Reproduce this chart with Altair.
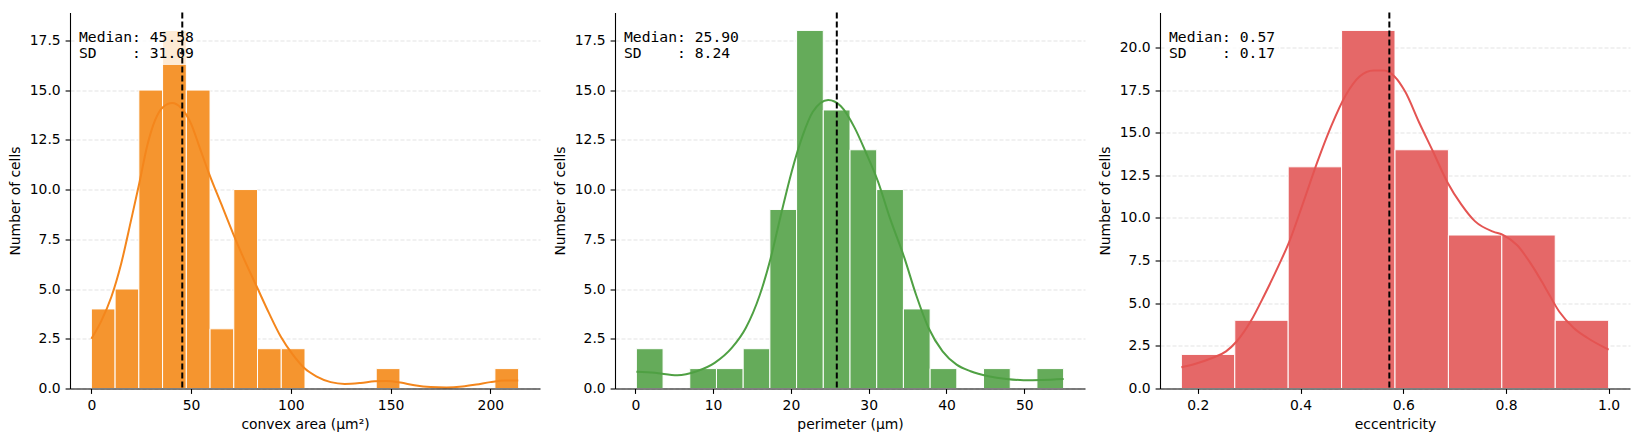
import altair as alt
import numpy as np
import pandas as pd

# ---- histogram data (76 cells) ----
area_range = (0.0, 214.2)
area_counts = [4, 5, 15, 18, 15, 3, 10, 2, 2, 0, 0, 0, 1, 0, 0, 0, 0, 1]

perim_range = (0.135, 55.06)
perim_counts = [2, 0, 1, 1, 2, 9, 18, 14, 12, 10, 4, 1, 0, 1, 0, 1]

ecc_range = (0.168, 1.0)
ecc_counts = [2, 4, 13, 21, 14, 9, 9, 4]

# ---- kernel density curves, scaled to counts ----
area_kde_x = [0, 5, 10, 15, 20, 24, 28, 32, 36, 40.5, 45, 50, 54, 59, 65, 71, 77, 83,
              89, 95, 101, 107, 113, 120, 127, 135, 142, 148, 155, 162, 170, 178, 186,
              193, 200, 207, 214]
area_kde_y = [2.5, 3.4, 4.6, 6.3, 8.5, 10.3, 12.2, 13.5, 14.15, 14.35, 14.1, 13.3, 12.2,
              10.8, 9.3, 7.8, 6.4, 5.1, 3.8, 2.6, 1.7, 1.0, 0.6, 0.32, 0.23, 0.28, 0.36,
              0.38, 0.3, 0.16, 0.07, 0.05, 0.1, 0.2, 0.32, 0.4, 0.4]

perim_kde_x = [0.14, 2.5, 5.4, 7.9, 10.2, 12.4, 14.2, 16.0, 17.4, 18.7, 20.1, 21.5, 22.8,
               24.8, 26.4, 28.2, 29.6, 31.2, 32.7, 34.6, 36.1, 37.7, 39.5, 41.3, 43.1,
               45.4, 47.7, 49.9, 52.2, 55.06]
perim_kde_y = [0.84, 0.79, 0.67, 0.87, 1.29, 2.04, 3.04, 4.7, 6.55, 8.7, 10.9, 12.7, 13.9,
               14.5, 14.2, 13.1, 11.9, 10.4, 8.6, 6.55, 4.7, 3.04, 1.87, 1.2, 0.87, 0.62,
               0.48, 0.42, 0.43, 0.48]

ecc_kde_x = [0.168, 0.194, 0.228, 0.255, 0.276, 0.303, 0.330, 0.358, 0.378, 0.406, 0.433,
             0.460, 0.488, 0.515, 0.542, 0.563, 0.583, 0.604, 0.631, 0.658, 0.686, 0.713,
             0.740, 0.775, 0.795, 0.822, 0.850, 0.877, 0.904, 0.932, 0.959, 1.0]
ecc_kde_y = [1.25, 1.44, 1.79, 2.18, 2.77, 3.94, 5.5, 7.25, 8.6, 10.96, 13.3, 15.4, 17.2,
             18.3, 18.65, 18.65, 18.3, 17.4, 15.6, 13.9, 12.1, 10.8, 9.8, 9.2, 9.0, 8.4,
             7.25, 5.9, 4.5, 3.55, 2.96, 2.28]

# ---- summary statistics ----
medians = [45.58, 25.90, 0.573]
sds = [31.09, 8.24, 0.17]

x_titles = ["convex area (µm²)", "perimeter (µm)", "eccentricity"]
x_ticks = [[0, 50, 100, 150, 200], [0, 10, 20, 30, 40, 50], [0.2, 0.4, 0.6, 0.8, 1.0]]
x_formats = ["d", "d", ".1f"]
y_ticks = [[0, 2.5, 5, 7.5, 10, 12.5, 15, 17.5],
           [0, 2.5, 5, 7.5, 10, 12.5, 15, 17.5],
           [0, 2.5, 5, 7.5, 10, 12.5, 15, 17.5, 20]]

bar_colors = ["#F5952F", "#65AB5A", "#E56868"]
line_colors = ["#F4861C", "#4FA043", "#E45452"]

NBSP = "\u00a0"


def panel(rng, counts, kx, ky, median, sd, bar_color, line_color,
          xtitle, xticks, xfmt, yticks, box_right):
    lo, hi = rng
    edges = np.linspace(lo, hi, len(counts) + 1)
    bars = pd.DataFrame({"start": edges[:-1], "end": edges[1:],
                         "count": counts, "zero": 0})
    bars = bars[bars["count"] > 0]
    margin = 0.05 * (hi - lo)
    xscale = alt.Scale(domain=[lo - margin, hi + margin], nice=False, zero=False)
    yscale = alt.Scale(domain=[0, max(counts) * 1.05], nice=False, zero=False)
    xaxis = alt.Axis(title=xtitle, values=xticks, format=xfmt, grid=False, zindex=1)
    yaxis = alt.Axis(title="Number of cells", values=yticks, format=".1f", grid=True)

    hist = alt.Chart(bars).mark_rect(
        fill=bar_color, stroke="white", strokeWidth=1
    ).encode(
        x=alt.X("start:Q", scale=xscale, axis=xaxis),
        x2="end:Q",
        y=alt.Y("count:Q", scale=yscale, axis=yaxis),
        y2="zero:Q",
    )

    kde = alt.Chart(pd.DataFrame({"v": kx, "d": ky})).mark_line(
        color=line_color, strokeWidth=2, interpolate="monotone"
    ).encode(
        x=alt.X("v:Q", scale=xscale, axis=xaxis),
        y=alt.Y("d:Q", scale=yscale, axis=yaxis),
    )

    box = alt.Chart(pd.DataFrame({"k": [0]})).mark_rect(
        fill="white", opacity=0.8
    ).encode(
        x=alt.value(5), x2=alt.value(box_right),
        y=alt.value(8), y2=alt.value(52.5),
    )

    med_rule = alt.Chart(pd.DataFrame({"m": [median]})).mark_rule(
        color="black", strokeWidth=2, strokeDash=[6, 3]
    ).encode(x=alt.X("m:Q", scale=xscale, axis=xaxis))

    lines = [f"Median: {median:.2f}", f"SD{NBSP * 4}: {sd:.2f}"]
    stats = alt.Chart(pd.DataFrame({"k": [0]})).mark_text(
        text=lines, align="left", baseline="alphabetic",
        font="DejaVu Sans Mono", fontSize=14.7, lineHeight=16.5, color="black"
    ).encode(x=alt.value(9), y=alt.value(29))

    return alt.layer(hist, kde, box, med_rule, stats).properties(width=470, height=376)


p1 = panel(area_range, area_counts, area_kde_x, area_kde_y, medians[0], sds[0],
           bar_colors[0], line_colors[0], x_titles[0], x_ticks[0], x_formats[0],
           y_ticks[0], 126)
p2 = panel(perim_range, perim_counts, perim_kde_x, perim_kde_y, medians[1], sds[1],
           bar_colors[1], line_colors[1], x_titles[1], x_ticks[1], x_formats[1],
           y_ticks[1], 126)
p3 = panel(ecc_range, ecc_counts, ecc_kde_x, ecc_kde_y, medians[2], sds[2],
           bar_colors[2], line_colors[2], x_titles[2], x_ticks[2], x_formats[2],
           y_ticks[2], 118)

chart = alt.hconcat(p1, p2, p3, spacing=75, bounds="flush").properties(
    padding={"left": 7, "top": 10.5, "right": 5, "bottom": 5},
    background="white",
).configure_view(
    stroke="transparent"
).configure_axis(
    domainColor="black", domainWidth=1.1,
    tickColor="black", tickWidth=1.1, tickSize=4.9,
    labelPadding=4.9, labelFont="DejaVu Sans", labelFontSize=13.9, labelColor="black",
    titleFont="DejaVu Sans", titleFontSize=13.9, titleFontWeight="normal",
    titleColor="black",
    gridColor="#dcdcdc", gridDash=[4, 2], gridWidth=0.8,
).configure_axisX(
    titlePadding=5
).configure_axisY(
    titlePadding=7
)

chart.save("out.html", embed_options={"renderer": "svg", "actions": False})
